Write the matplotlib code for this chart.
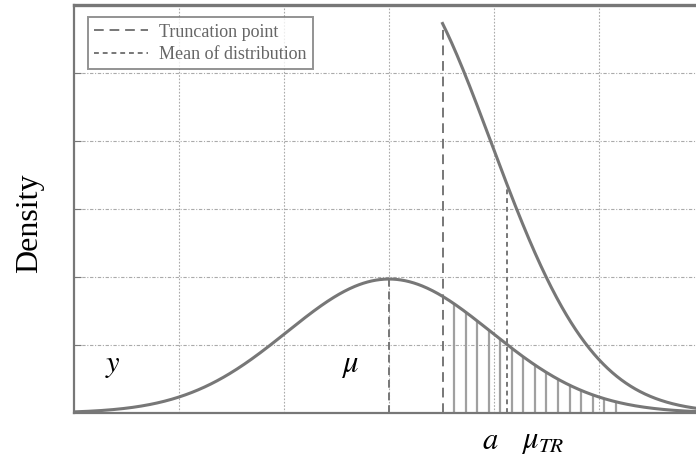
import numpy as np
import matplotlib
matplotlib.use("Agg")
import matplotlib.pyplot as plt
from math import erf, sqrt

# values (x: one grid cell = 1, y: one grid cell = 1)
mu = 3.0            # mean of the normal
sigma = 0.97        # spread of the normal
a_trunc = 3.51      # truncation point
peak = 1.97         # height of the normal curve at its mean
x_grid = [1, 2, 3, 4, 5]
y_grid = [1, 2, 3, 4, 5]
x_range = [0, 6]
y_range = [0, 6]
hatch_end = 5.22    # shading under the normal stops about here
hatch_step = 0.11

legend_labels = ["Truncation point", "Mean of distribution"]

plt.rcParams['font.family'] = ['Liberation Serif', 'DejaVu Serif']
plt.rcParams['mathtext.fontset'] = 'stix'

grey = '#777777'


def normal(x):
    return peak * np.exp(-(x - mu) ** 2 / (2 * sigma ** 2))


tail = 0.5 * (1 - erf((a_trunc - mu) / (sigma * sqrt(2))))   # 1 - Phi(alpha)


def truncated(x):
    return normal(x) / tail


alpha = (a_trunc - mu) / sigma
lam = np.exp(-alpha ** 2 / 2) / sqrt(2 * np.pi) / tail
mu_tr = mu + sigma * lam

fig = plt.figure(figsize=(6.96, 4.57), dpi=100)
ax = fig.add_axes([74 / 696, 44 / 457, 630 / 696, 408 / 457])

x = np.linspace(x_range[0], x_range[1], 600)
xt = np.linspace(a_trunc, x_range[1], 400)

# grid
for gx in x_grid:
    ax.axvline(gx, color='#aaaaaa', lw=0.8, ls=(0, (1.5, 1.5)), zorder=0)
for gy in y_grid:
    ax.axhline(gy, color='#aaaaaa', lw=0.8, ls=(0, (3, 1.5, 1, 1.5)), zorder=0)

# vertical shading of the cut-off tail
hx = np.arange(a_trunc + hatch_step, hatch_end, hatch_step)
ax.vlines(hx, 0, normal(hx), color='#a0a0a0', lw=1.6, zorder=1)

ax.plot(x, normal(x), color=grey, lw=2.2, zorder=3)
ax.plot(xt, truncated(xt), color=grey, lw=2.2, zorder=3)

# reference lines
ax.plot([a_trunc, a_trunc], [0, truncated(a_trunc)], color=grey, lw=1.4,
        ls=(0, (5, 3)), label=legend_labels[0], zorder=2)
ax.plot([mu, mu], [0, normal(mu)], color=grey, lw=1.4,
        ls=(0, (4, 2.5)), zorder=2)
ax.plot([mu_tr, mu_tr], [0, truncated(mu_tr)], color=grey, lw=1.4,
        ls=(0, (2.5, 2)), label=legend_labels[1], zorder=2)

ax.set_xlim(*x_range)
ax.set_ylim(*y_range)
ax.set_xticks([])
ax.set_yticks(y_grid)
ax.set_yticklabels([])
ax.tick_params(axis='y', direction='in', length=5, color=grey)
for s in ['left', 'bottom']:
    ax.spines[s].set_color(grey)
    ax.spines[s].set_linewidth(1.6)
ax.spines['top'].set_color(grey)
ax.spines['top'].set_linewidth(2.4)
ax.spines['right'].set_visible(False)

ax.set_ylabel("Density", fontsize=23)
ax.yaxis.set_label_coords(-0.047, 0.466)

ax.text(0.37, 0.7, r"$y$", fontsize=22, ha='center', va='center')
ax.text(2.63, 0.7, r"$\mu$", fontsize=22, ha='center', va='center')
ax.text(3.96, -0.42, r"$a$", fontsize=22, ha='center', va='center')
ax.text(4.46, -0.42, r"$\mu_{TR}$", fontsize=22, ha='center', va='center')

leg = ax.legend(loc='upper left', bbox_to_anchor=(0.022, 0.97), fontsize=13,
                handlelength=3.0, frameon=True, fancybox=False,
                borderpad=0.35, labelspacing=0.3, handletextpad=0.6,
                borderaxespad=0)
leg.get_frame().set_edgecolor(grey)
leg.get_frame().set_linewidth(1.4)
for t in leg.get_texts():
    t.set_color('#666666')

fig.savefig("out.png", dpi=100)
